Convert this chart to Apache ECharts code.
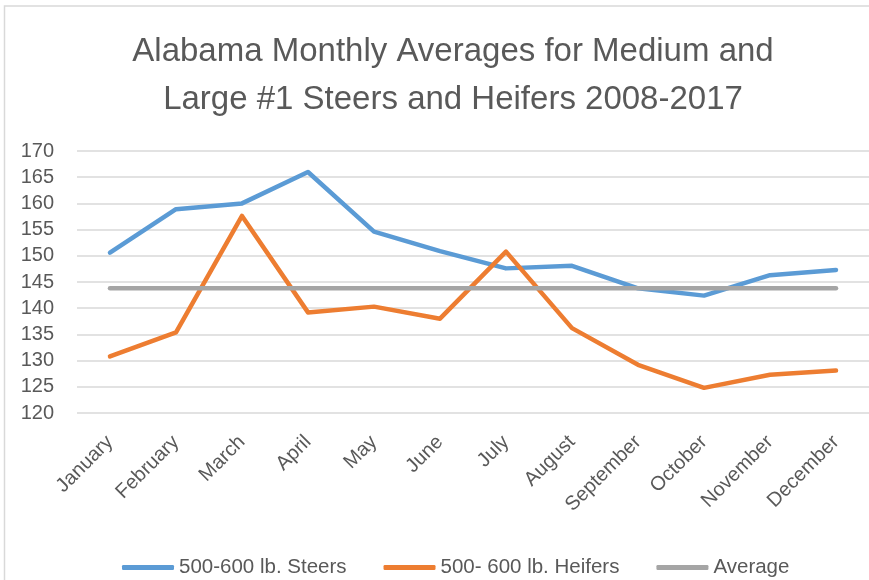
<!DOCTYPE html>
<html>
<head>
<meta charset="utf-8">
<script src="https://cdn.jsdelivr.net/npm/echarts@6/dist/echarts.min.js"></script>
<style>
  html, body { margin: 0; padding: 0; background: #fff; }
  #chart { width: 869px; height: 580px; }
</style>
</head>
<body>
<div id="chart"></div>
<script>
// Monthly averages, 2008-2017 ($/cwt)
const months = ['January', 'February', 'March', 'April', 'May', 'June',
                'July', 'August', 'September', 'October', 'November', 'December'];
const steers  = [150.6, 158.9, 160.0, 166.0, 154.6, 150.9, 147.6, 148.1, 143.8, 142.4, 146.3, 147.3];
const heifers = [130.8, 135.4, 157.6, 139.2, 140.3, 138.0, 150.8, 136.2, 129.2, 124.8, 127.3, 128.1];
const averageValue = 143.8;
const average = months.map(() => averageValue);
const seriesNames = ['500-600 lb. Steers', '500- 600 lb. Heifers', 'Average'];
const yMin = 120, yMax = 170, yStep = 5;

const FONT = '"Liberation Sans", Arial, sans-serif';
const TEXT = '#595959';

const chart = echarts.init(document.getElementById('chart'), null, { renderer: 'canvas' });

function lineSeries(name, data, color) {
  return {
    name: name,
    type: 'line',
    data: data,
    symbol: 'none',
    silent: true,
    animation: false,
    lineStyle: { color: color, width: 4.5, cap: 'round', join: 'round' },
    itemStyle: { color: color }
  };
}

chart.setOption({
  animation: false,
  backgroundColor: '#ffffff',
  textStyle: { fontFamily: FONT },
  title: {
    text: 'Alabama Monthly Averages for Medium and\nLarge #1 Steers and Heifers 2008-2017',
    left: 453,
    textAlign: 'center',
    top: 28,
    padding: 0,
    textStyle: {
      fontFamily: FONT,
      fontSize: 33,
      fontWeight: 'normal',
      color: TEXT,
      lineHeight: 48
    }
  },
  graphic: [{
    type: 'rect',
    silent: true,
    shape: { x: 4.5, y: 6, width: 1000, height: 1000 },
    style: { fill: 'none', stroke: '#d9d9d9', lineWidth: 1.5 }
  }],
  legend: {
    top: 557,
    left: 122,
    padding: 0,
    itemWidth: 52,
    itemHeight: 5,
    itemGap: 37,
    icon: 'roundRect',
    selectedMode: false,
    textStyle: { fontFamily: FONT, fontSize: 20.5, color: TEXT },
    data: seriesNames
  },
  grid: {
    left: 77,
    right: -7,
    top: 151,
    height: 262,
    containLabel: false
  },
  xAxis: {
    type: 'category',
    data: months,
    boundaryGap: true,
    axisLine: { show: false },
    axisTick: { show: false },
    axisLabel: {
      rotate: 45,
      margin: 26,
      interval: 0,
      fontFamily: FONT,
      fontSize: 20,
      color: TEXT
    }
  },
  yAxis: {
    type: 'value',
    min: yMin,
    max: yMax,
    interval: yStep,
    axisLine: { show: false },
    axisTick: { show: false },
    axisLabel: {
      margin: 23,
      fontFamily: FONT,
      fontSize: 20,
      color: TEXT
    },
    splitLine: { lineStyle: { color: '#d9d9d9', width: 1.5 } }
  },
  series: [
    lineSeries(seriesNames[0], steers, '#5b9bd5'),
    lineSeries(seriesNames[1], heifers, '#ed7d31'),
    lineSeries(seriesNames[2], average, '#a5a5a5')
  ]
});
</script>
</body>
</html>
